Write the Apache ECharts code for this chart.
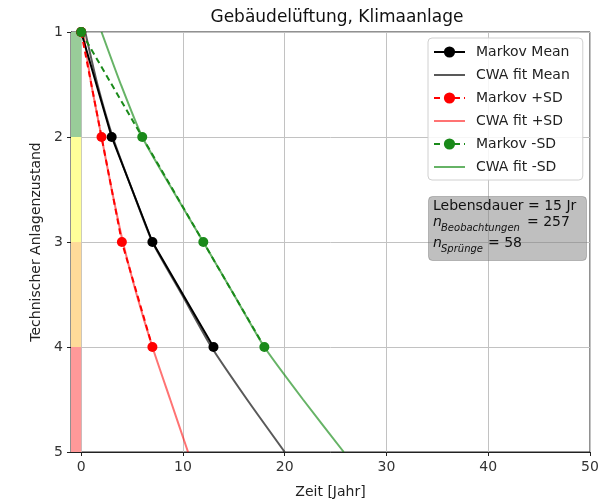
<!DOCTYPE html>
<html>
<head>
<meta charset="utf-8">
<script src="https://cdn.jsdelivr.net/npm/echarts@6/dist/echarts.min.js"></script>
<style>html,body{margin:0;padding:0;background:#fff;}#c{width:613px;height:504px;}</style>
</head>
<body>
<div id="c"></div>
<script>
// ---- data ----
var titleText = 'Gebäudelüftung, Klimaanlage';
var xName = 'Zeit [Jahr]';
var yName = 'Technischer Anlagenzustand';
var markovStates = [1, 2, 3, 4];
var markovMean = [0, 3, 7, 13];
var markovPlus = [0, 2, 4, 7];
var markovMinus = [0, 6, 12, 18];
var fitStates = [1, 1.5, 2, 2.5, 3, 3.5, 4, 4.5, 5];
var fitMean = [0.4, 1.6, 3.1, 5.0, 7.0, 9.9, 12.8, 16.3, 20.0];
var fitPlus = [0.2, 1.0, 2.0, 3.0, 4.1, 5.45, 7.0, 8.75, 10.5];
var fitMinus = [2.0, 3.9, 6.0, 8.95, 12.0, 15.0, 18.0, 21.8, 25.8];
var bandLevels = [1, 2, 3, 4, 5];
var bandX = [-1, 0];
var bandColors = ['#99cc99', '#ffff99', '#ffdb99', '#ff9999'];
var xTicks = [0, 10, 20, 30, 40, 50];
var yTicks = [1, 2, 3, 4, 5];
var infoLines = ['Lebensdauer = 15 Jr', '257', '58'];

function pairs(xs, ys) { return xs.map(function (x, i) { return [x, ys[i]]; }); }

var FONT = 'DejaVu Sans';
var bandData = [];
for (var i = 0; i < bandColors.length; i++) {
  bandData.push([
    { xAxis: bandX[0], yAxis: bandLevels[i], itemStyle: { color: bandColors[i], opacity: 1 } },
    { xAxis: bandX[1], yAxis: bandLevels[i + 1] }
  ]);
}

var chart = echarts.init(document.getElementById('c'), null, { renderer: 'canvas' });
chart.setOption({
  animation: false,
  backgroundColor: '#fff',
  textStyle: { fontFamily: FONT },
  title: {
    text: titleText, left: 332, top: 4, textAlign: 'center',
    textStyle: { fontFamily: FONT, fontSize: 17, fontWeight: 'normal', color: '#111' }
  },
  grid: { left: 71, right: 23, top: 32, bottom: 52, show: true, borderColor: '#222', borderWidth: 1, backgroundColor: 'transparent' },
  xAxis: {
    type: 'value', min: -1, max: 50,
    name: xName, nameLocation: 'middle', nameGap: 33,
    nameTextStyle: { fontFamily: FONT, fontSize: 14, color: '#222' },
    axisLine: { show: true, onZero: false, lineStyle: { color: '#222', width: 1 } },
    axisTick: { show: true, length: 4, lineStyle: { color: '#222' }, customValues: xTicks },
    axisLabel: { fontFamily: FONT, fontSize: 14, color: '#333', margin: 8, customValues: xTicks },
    splitLine: { show: true, lineStyle: { color: '#c2c2c2', width: 1 } },
    interval: 10
  },
  yAxis: {
    type: 'value', min: 1, max: 5, interval: 1, inverse: true,
    name: yName, nameLocation: 'middle', nameGap: 27, nameRotate: 90,
    nameTextStyle: { fontFamily: FONT, fontSize: 14, color: '#222' },
    axisLine: { show: true, onZero: false, lineStyle: { color: '#222', width: 1 } },
    axisTick: { show: true, length: 4, lineStyle: { color: '#222' } },
    axisLabel: { fontFamily: FONT, fontSize: 14, color: '#333', margin: 8 },
    splitLine: { show: true, lineStyle: { color: '#c2c2c2', width: 1 } }
  },
  legend: {
    left: 428, top: 38, orient: 'vertical',
    itemWidth: 31, itemHeight: 14, itemGap: 9,
    padding: [7, 13, 6, 5],
    backgroundColor: 'rgba(255,255,255,0.85)', borderColor: '#d0d0d0', borderWidth: 1, borderRadius: 4,
    textStyle: { fontFamily: FONT, fontSize: 14, color: '#222', padding: [0, 0, 0, 6] },
    data: [
      { name: 'Markov Mean' },
      { name: 'CWA fit Mean', itemStyle: { opacity: 0 } },
      { name: 'Markov +SD' },
      { name: 'CWA fit +SD', itemStyle: { opacity: 0 } },
      { name: 'Markov -SD' },
      { name: 'CWA fit -SD', itemStyle: { opacity: 0 } }
    ]
  },
  graphic: [
    { type: 'rect', left: 428, top: 196, shape: { width: 158, height: 64, r: 4 },
      style: { fill: 'rgba(128,128,128,0.5)', stroke: 'rgba(110,110,110,0.4)', lineWidth: 1 }, z: 100 },
    { type: 'text', x: 433, y: 206, z: 101, style: { text: infoLines[0], font: '14px "DejaVu Sans"', fill: '#111', verticalAlign: 'middle' } },
    { type: 'text', x: 433, y: 222, z: 101, style: { text: 'n', font: 'italic 14px "DejaVu Sans"', fill: '#111', verticalAlign: 'middle' } },
    { type: 'text', x: 441, y: 228, z: 101, style: { text: 'Beobachtungen', font: 'italic 10px "DejaVu Sans"', fill: '#111', verticalAlign: 'middle' } },
    { type: 'text', x: 527, y: 222, z: 101, style: { text: '= ' + infoLines[1], font: '14px "DejaVu Sans"', fill: '#111', verticalAlign: 'middle' } },
    { type: 'text', x: 433, y: 243, z: 101, style: { text: 'n', font: 'italic 14px "DejaVu Sans"', fill: '#111', verticalAlign: 'middle' } },
    { type: 'text', x: 441, y: 249, z: 101, style: { text: 'Sprünge', font: 'italic 10px "DejaVu Sans"', fill: '#111', verticalAlign: 'middle' } },
    { type: 'text', x: 488, y: 243, z: 101, style: { text: '= ' + infoLines[2], font: '14px "DejaVu Sans"', fill: '#111', verticalAlign: 'middle' } }
  ],
  series: [
    { name: 'bands', type: 'line', data: [], silent: true,
      markArea: { silent: true, data: bandData } },
    { name: 'Markov Mean', type: 'line', data: pairs(markovMean, markovStates),
      symbol: 'circle', symbolSize: 10, itemStyle: { color: '#000' },
      lineStyle: { color: '#000', width: 2 }, z: 5 },
    { name: 'CWA fit Mean', type: 'line', data: pairs(fitMean, fitStates), symbol: 'none', smooth: 0.2,
      itemStyle: { color: 'rgba(0,0,0,0.65)' }, lineStyle: { color: 'rgba(0,0,0,0.65)', width: 2 }, z: 4 },
    { name: 'Markov +SD', type: 'line', data: pairs(markovPlus, markovStates),
      symbol: 'circle', symbolSize: 10, itemStyle: { color: '#ff0000' },
      lineStyle: { color: '#ff0000', width: 2, type: [6, 4] }, z: 5 },
    { name: 'CWA fit +SD', type: 'line', data: pairs(fitPlus, fitStates), symbol: 'none', smooth: 0.2,
      itemStyle: { color: 'rgba(255,0,0,0.55)' }, lineStyle: { color: 'rgba(255,0,0,0.55)', width: 2 }, z: 4 },
    { name: 'Markov -SD', type: 'line', data: pairs(markovMinus, markovStates),
      symbol: 'circle', symbolSize: 10, itemStyle: { color: '#1a8a1a' },
      lineStyle: { color: '#1a8a1a', width: 2, type: [6, 4] }, z: 5 },
    { name: 'CWA fit -SD', type: 'line', data: pairs(fitMinus, fitStates), symbol: 'none', smooth: 0.2,
      itemStyle: { color: 'rgba(0,128,0,0.6)' }, lineStyle: { color: 'rgba(0,128,0,0.6)', width: 2 }, z: 4 }
  ]
});
</script>
</body>
</html>
